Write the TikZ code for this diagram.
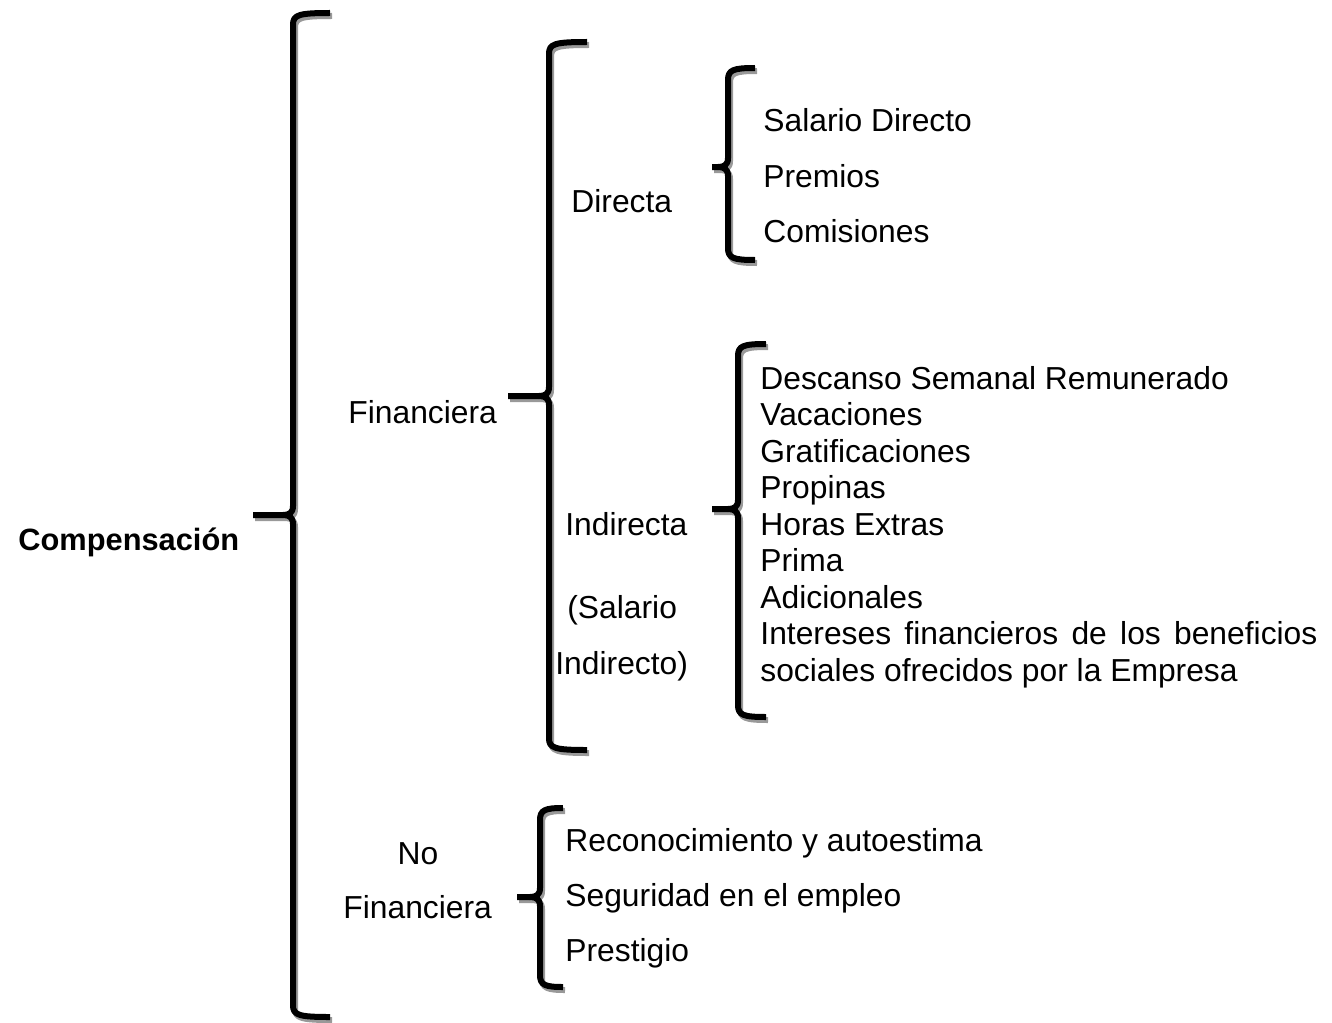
\documentclass[tikz,border=0pt]{standalone}
\usepackage{fontspec}
\setmainfont{Liberation Sans}
\tikzset{
  txt/.style={anchor=base west, inner sep=0pt, font=\fontsize{15.9}{18.3}\selectfont},
  btxt/.style={txt, font=\fontsize{15.4}{18.3}\selectfont\bfseries},
  braceline/.style={line width=3pt, black, line cap=butt, line join=round},
  shadowline/.style={line width=3pt, black!40, line cap=butt, line join=round},
}
% #1 xv, #2 xe, #3 xtip, #4 ytop, #5 ymid, #6 ybot
\newcommand\curlybr[6]{%
  \foreach \st/\dx/\dy in {shadowline/2/3, braceline/0/0}{%
    \draw[\st, shift={(\dx,\dy)}] (#2,#4) .. controls (#1+5,#4) and (#1,#4+2) .. (#1,#4+12)
      -- (#1,#5-9) .. controls (#1,#5-2) and (#1-4,#5) .. (#1-10,#5) -- (#3,#5);
    \draw[\st, shift={(\dx,\dy)}] (#1-10,#5) .. controls (#1-4,#5) and (#1,#5+2) .. (#1,#5+9)
      -- (#1,#6-12) .. controls (#1,#6-2) and (#1+5,#6) .. (#2,#6);
  }%
}
\begin{document}
\begin{tikzpicture}[x=0.5pt,y=-0.5pt]
\useasboundingbox (0,0) rectangle (1332,1022);
% braces
\curlybr{293}{330}{253}{13}{515}{1017}
\curlybr{549}{587}{508}{42}{396}{750}
\curlybr{728}{755}{712}{68}{167}{260}
\curlybr{738}{766}{712}{344}{509}{717}
\curlybr{540}{563}{517}{808}{897}{987}
% labels
\node[btxt] (comp) at (18,550) {Compensación};
\node[txt] (fin) at (348,423) {Financiera};
\node[txt] (dir) at (571,212) {Directa};
\node[txt] (sd) at (763,132) {Salario Directo};
\node[txt] (pre) at (763,187) {Premios};
\node[txt] (com) at (763,242) {Comisiones};
\node[txt] (ind) at (565,535) {Indirecta};
\node[txt] (sal) at (567,618) {(Salario};
\node[txt] (indo) at (555,674) {Indirecto)};
\node[txt] (l1) at (760,389) {Descanso Semanal Remunerado};
\node[txt] (l2) at (760,425.5) {Vacaciones};
\node[txt] (l3) at (760,462) {Gratificaciones};
\node[txt] (l4) at (760,498.5) {Propinas};
\node[txt] (l5) at (760,535) {Horas Extras};
\node[txt] (l6) at (760,571.5) {Prima};
\node[txt] (l7) at (760,608) {Adicionales};
\node[txt] (l8) at (760,644.5) {\hbox to 278.5pt{Intereses\hfill financieros\hfill de\hfill los\hfill beneficios}};
\node[txt] (l9) at (760,681) {sociales ofrecidos por la Empresa};
\node[txt, anchor=base] (no) at (418,864) {No};
\node[txt] (nofin) at (343,918) {Financiera};
\node[txt] (rec) at (565,851) {Reconocimiento y autoestima};
\node[txt] (seg) at (565,906) {Seguridad en el empleo};
\node[txt] (pres) at (565,961) {Prestigio};
\end{tikzpicture}
\end{document}
